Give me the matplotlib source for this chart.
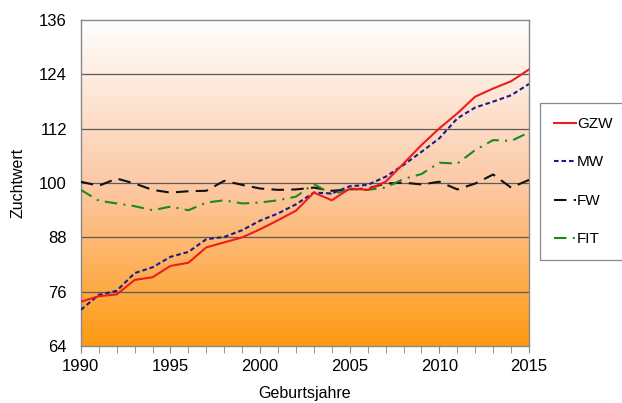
import numpy as np
import matplotlib.pyplot as plt
from matplotlib.colors import LinearSegmentedColormap

plt.rcParams['font.family'] = ['Liberation Sans', 'DejaVu Sans']

jahre = list(range(1990, 2016))
gzw = [73.8, 75.0, 75.4, 78.6, 79.2, 81.7, 82.4, 85.8, 86.9, 88.0, 89.8, 91.8, 93.9,
       97.9, 96.2, 98.8, 98.5, 100.3, 104.3, 108.4, 112.1, 115.4, 119.1, 120.9, 122.5, 125.1]
mw = [72.0, 75.3, 76.2, 80.1, 81.4, 83.7, 84.8, 87.6, 88.1, 89.6, 91.7, 93.3, 95.3,
      97.9, 97.7, 99.3, 99.6, 101.4, 104.0, 106.9, 109.9, 114.3, 116.7, 118.0, 119.4, 121.9]
fw = [100.3, 99.4, 101.0, 99.9, 98.5, 97.9, 98.2, 98.3, 100.5, 99.6, 98.8, 98.5, 98.6,
      99.0, 98.3, 98.6, 98.8, 99.9, 100.1, 99.7, 100.3, 98.6, 99.9, 101.9, 99.0, 100.7]
fit = [98.5, 96.1, 95.5, 94.9, 94.0, 94.8, 94.0, 95.7, 96.2, 95.5, 95.7, 96.2, 97.0,
       99.8, 97.5, 98.6, 98.5, 99.0, 100.9, 102.0, 104.5, 104.3, 107.3, 109.5, 109.3, 111.2]

yticks = [64, 76, 88, 100, 112, 124, 136]

fig = plt.figure(figsize=(6.22, 4.03), dpi=100)
ax = fig.add_axes([0.130, 0.1414, 0.7205, 0.8086])

# vertical white-to-orange background
cmap = LinearSegmentedColormap.from_list(
    'bg', [(0.0, '#ff9a12'), (0.5, '#fcc9a6'), (1.0, '#ffffff')])
grad = np.linspace(0, 1, 256).reshape(-1, 1)
ax.imshow(grad, cmap=cmap, aspect='auto', origin='lower',
          extent=[1990, 2015, 64, 136], zorder=0)

for y in yticks[1:-1]:
    ax.axhline(y, color='#5a5a5a', lw=0.9, zorder=1)

ax.plot(jahre, gzw, color='#ee1c1c', lw=1.5, label='GZW', zorder=5)
ax.plot(jahre, mw, color='#1a1a8c', lw=1.5, ls=(0, (2.2, 1.4)), label='MW', zorder=4)
ax.plot(jahre, fw, color='#111111', lw=1.5, ls=(0, (6, 3.5)), label='FW', zorder=3)
ax.plot(jahre, fit, color='#1c8a1c', lw=1.5, ls=(0, (6, 3, 1, 3)), label='FIT', zorder=3)

ax.set_xlim(1990, 2015)
ax.set_ylim(64, 136)
ax.set_yticks(yticks)
ax.set_xticks(range(1990, 2016, 5))
ax.set_xticks(jahre, minor=True)
ax.tick_params(axis='x', which='both', direction='out', length=5, color='#888888',
               labelsize=12, pad=4)
ax.tick_params(axis='y', length=0, labelsize=12, pad=10)
for s in ax.spines.values():
    s.set_color('#888888')
    s.set_linewidth(1.0)

ax.set_xlabel('Geburtsjahre', fontsize=11.5, labelpad=9)
ax.set_ylabel('Zuchtwert', fontsize=11.5, labelpad=10)

leg = ax.legend(loc='upper left', bbox_to_anchor=(1.024, 0.745), fontsize=11,
                handlelength=1.5, handletextpad=0.05, labelspacing=1.6,
                borderpad=0.9, borderaxespad=0, fancybox=False, framealpha=1,
                edgecolor='#888888')
leg.get_frame().set_linewidth(0.9)

fig.savefig('out.png', dpi=100)
